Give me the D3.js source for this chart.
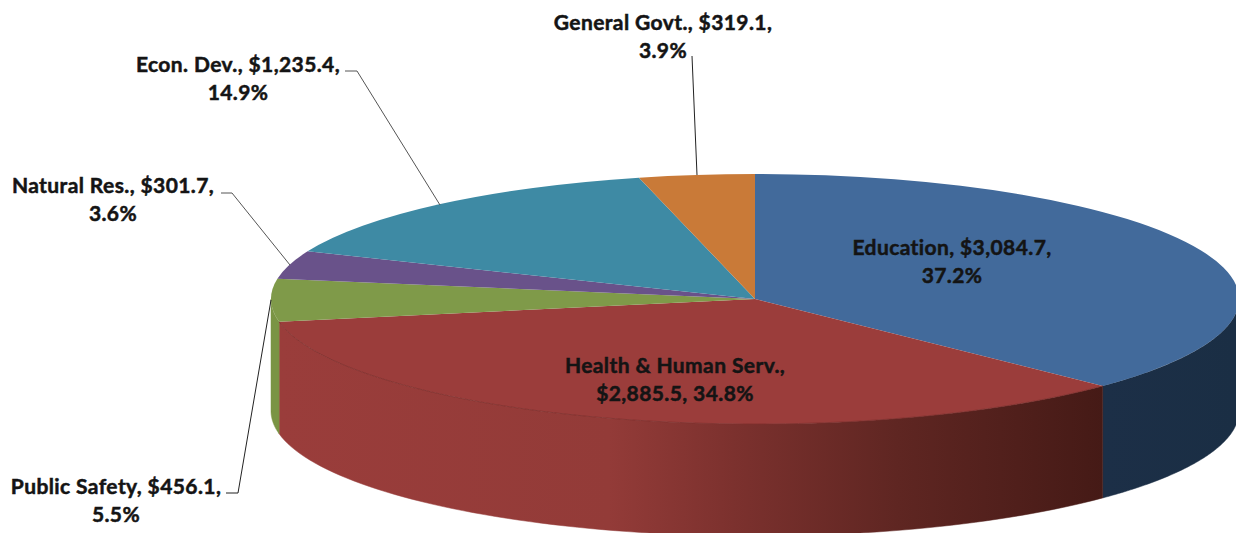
<!DOCTYPE html>
<html>
<head>
<meta charset="utf-8">
<style>
html,body{margin:0;padding:0;background:#fff;overflow:hidden}
text{font-family:Lato,"Open Sans",sans-serif;font-weight:700;font-size:21px;letter-spacing:0.4px;fill:#141414;stroke:#141414;stroke-width:0.5px;text-anchor:middle}
</style>
<script src="https://cdn.jsdelivr.net/npm/d3@7"></script>
</head>
<body>
<svg id="chart" width="1236" height="533"></svg>
<script>
// chart values, clockwise from 12 o'clock
var CATEGORIES=["Education","Health & Human Serv.","Public Safety","Natural Res.","Econ. Dev.","General Govt."];
var AMOUNTS=[3084.7,2885.5,456.1,301.7,1235.4,319.1];
var PERCENTS=["37.2%","34.8%","5.5%","3.6%","14.9%","3.9%"];
var COLORS=["#426a9b","#9b3d3b","#7f9a49","#69528a","#3e8aa4","#c97a38"];

// pie geometry
var CX=755,CY=299,RX=484,RY=125,DEPTH=112;

// label text lines (index into the arrays above) and where they sit
var LABEL_LAYOUT=[
	{x:952,y:255,split:1},
	{x:675,y:373,split:0},
	{x:116,y:494,split:1},
	{x:113,y:193,split:1},
	{x:238,y:72,split:1},
	{x:663,y:30,split:1}
];
// leader lines: label end, elbow, rim of the slice
var LEADERS=[
	{i:2,pts:[[226,493],[238,493],[271,300]]},
	{i:3,pts:[[221,193],[232,193],[290,265]]},
	{i:4,pts:[[345,71],[357,71],[440,205]]},
	{i:5,pts:[[692,56],[697,175]]}
];

var svg=d3.select("#chart");
var money=d3.format(",.1f");
var pie=d3.pie().sort(null).startAngle(0).endAngle(2*Math.PI)(AMOUNTS);

// side wall gradients
var defs=svg.append("defs");
var redGrad=defs.append("linearGradient").attr("id","redSide")
	.attr("gradientUnits","userSpaceOnUse").attr("x1",279).attr("x2",1104).attr("y1",0).attr("y2",0);
[[0,"#9a3d3b"],[0.4,"#933b38"],[0.55,"#7c312e"],[0.75,"#5f2622"],[1,"#451a16"]].forEach(function(s){
	redGrad.append("stop").attr("offset",s[0]).attr("stop-color",s[1]);
});
var blueGrad=defs.append("linearGradient").attr("id","blueSide")
	.attr("gradientUnits","userSpaceOnUse").attr("x1",1104).attr("x2",1236).attr("y1",0).attr("y2",0);
[[0,"#1c2f47"],[1,"#1a2e44"]].forEach(function(s){
	blueGrad.append("stop").attr("offset",s[0]).attr("stop-color",s[1]);
});
var SIDE_FILL=["url(#blueSide)","url(#redSide)","#7a9444"];

//椭圆上某角度的点 (0 = top, clockwise)
function rimPoint(a,dy){
	return [CX+RX*Math.sin(a),CY-RY*Math.cos(a)+dy];
}

//side walls, only the front half of the rim shows
var FRONT_START=Math.PI/2,FRONT_END=Math.PI*1.5;
pie.forEach(function(d,i){
	var a0=Math.max(d.startAngle,FRONT_START),a1=Math.min(d.endAngle,FRONT_END);
	if(a1<=a0){return;}
	var steps=d3.range(0,81).map(function(k){return a0+(a1-a0)*k/80;});
	var pts=steps.map(function(a){return rimPoint(a,0);})
		.concat(steps.slice().reverse().map(function(a){return rimPoint(a,DEPTH);}));
	svg.append("path")
		.attr("d",d3.line()(pts)+"Z")
		.attr("fill",SIDE_FILL[i])
		.attr("stroke",SIDE_FILL[i])
		.attr("stroke-width",0.5);
});

//top face
var arc=d3.arc().innerRadius(0).outerRadius(RX);
var topFace=svg.append("g").attr("transform","translate("+CX+","+CY+") scale(1,"+(RY/RX)+")");
topFace.selectAll("path").data(pie).enter().append("path")
	.attr("d",arc)
	.attr("fill",function(d,i){return COLORS[i];});

//faint rim line where the red top meets its wall
var redPts=d3.range(0,81).map(function(k){
	return rimPoint(pie[1].startAngle+(pie[1].endAngle-pie[1].startAngle)*k/80,0);
});
svg.append("path").attr("d",d3.line()(redPts)).attr("fill","none")
	.attr("stroke","#7d2f2c").attr("stroke-width",0.8);

//leaders
LEADERS.forEach(function(l){
	svg.append("path").attr("d",d3.line()(l.pts)).attr("fill","none")
		.attr("stroke",l.i==3||l.i==4?"#555":"#222").attr("stroke-width",1);
});

//labels
LABEL_LAYOUT.forEach(function(p,i){
	var head=CATEGORIES[i]+",";
	var amount="$"+money(AMOUNTS[i])+",";
	var lines=p.split==1?[head+" "+amount,PERCENTS[i]]:[head,amount+" "+PERCENTS[i]];
	var t=svg.append("text").attr("x",p.x).attr("y",p.y);
	lines.forEach(function(s,k){
		t.append("tspan").attr("x",p.x).attr("dy",k==0?0:28).text(s);
	});
});
</script>
</body>
</html>
